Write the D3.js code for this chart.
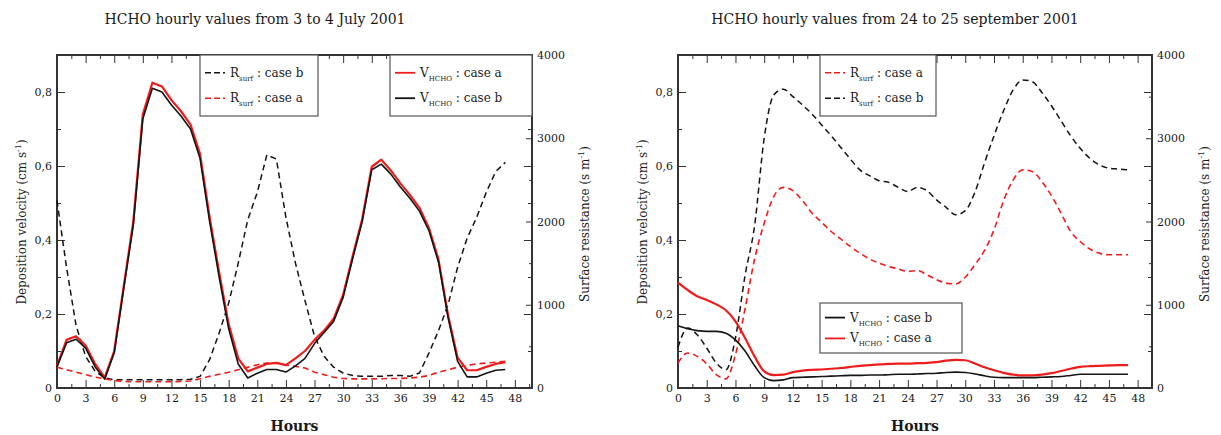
<!DOCTYPE html>
<html>
<head>
<meta charset="utf-8">
<script src="https://cdn.jsdelivr.net/npm/d3@7"></script>
<style>
body { margin: 0; background: #fff; }
text { font-family: "DejaVu Serif", "Liberation Serif", serif; fill: #1a1a1a; }
</style>
</head>
<body>
<svg id="chart"></svg>
<script>
const width = 1221;
const height = 435;

// hours of the two-day runs
const hours = [0,1,2,3,4,5,6,7,8,9,10,11,12,13,14,15,16,17,18,19,20,21,22,23,
               24,25,26,27,28,29,30,31,32,33,34,35,36,37,38,39,40,41,42,43,44,45,46,47];
const xTicks = [0,3,6,9,12,15,18,21,24,27,30,33,36,39,42,45,48];
const vTicks = [0,0.2,0.4,0.6,0.8];
const rTicks = [0,1000,2000,3000,4000];

// 3-4 July 2001
const julyVA = [0.06,0.13,0.14,0.115,0.065,0.028,0.1,0.275,0.45,0.74,0.825,0.815,0.778,0.748,0.712,0.632,0.462,0.312,0.172,0.08,0.045,0.055,0.065,0.068,0.062,0.08,0.1,0.13,0.155,0.187,0.252,0.357,0.457,0.598,0.617,0.588,0.553,0.522,0.487,0.432,0.347,0.197,0.082,0.048,0.048,0.057,0.065,0.07];
const julyVB = [0.057,0.122,0.132,0.108,0.057,0.024,0.095,0.27,0.44,0.728,0.81,0.8,0.765,0.735,0.7,0.62,0.45,0.3,0.16,0.065,0.027,0.04,0.05,0.05,0.043,0.06,0.08,0.12,0.15,0.18,0.245,0.35,0.45,0.59,0.605,0.578,0.543,0.513,0.478,0.425,0.34,0.19,0.072,0.03,0.03,0.04,0.048,0.05];
const julyRA = [250,220,190,160,130,110,90,78,75,75,75,75,75,78,85,110,140,165,190,220,250,280,300,300,275,260,240,190,160,130,115,110,110,110,112,115,115,120,130,150,190,220,250,270,290,300,310,320];
const julyRB = [2250,1450,750,380,200,120,100,100,100,100,100,100,100,100,105,140,340,660,1020,1500,2020,2350,2800,2750,2050,1500,1050,620,380,250,180,150,140,140,140,150,150,140,180,420,690,1000,1450,1800,2050,2350,2600,2710];

// 24-25 September 2001
const sepVA = [0.285,0.265,0.248,0.238,0.226,0.21,0.18,0.135,0.085,0.045,0.035,0.036,0.043,0.047,0.049,0.05,0.052,0.054,0.057,0.06,0.062,0.064,0.065,0.066,0.066,0.067,0.068,0.07,0.074,0.076,0.075,0.066,0.056,0.048,0.041,0.036,0.034,0.034,0.036,0.04,0.046,0.052,0.057,0.059,0.06,0.061,0.062,0.062];
const sepVB = [0.168,0.16,0.155,0.153,0.153,0.148,0.13,0.1,0.06,0.028,0.02,0.022,0.028,0.029,0.03,0.031,0.032,0.033,0.034,0.034,0.035,0.035,0.036,0.037,0.037,0.038,0.039,0.04,0.042,0.043,0.042,0.038,0.033,0.029,0.028,0.028,0.028,0.028,0.029,0.03,0.031,0.034,0.037,0.037,0.037,0.037,0.037,0.037];
const sepRA = [300,420,380,290,160,110,400,950,1550,1980,2300,2410,2370,2250,2100,1990,1880,1790,1700,1620,1550,1500,1460,1430,1400,1410,1360,1300,1260,1250,1330,1480,1650,1900,2250,2500,2620,2600,2480,2310,2100,1880,1760,1670,1620,1600,1600,1600];
const sepRB = [490,720,640,480,300,220,600,1350,1950,3000,3520,3590,3500,3400,3290,3160,3030,2890,2750,2620,2550,2490,2470,2410,2360,2410,2370,2260,2170,2080,2130,2350,2700,3030,3330,3580,3700,3680,3550,3390,3210,3030,2880,2760,2680,2640,2630,2620];

const red = "#f01c1c";
const black = "#141414";

const svg = d3.select("#chart")
    .attr("width", width)
    .attr("height", height);

const panels = [
    {
        title: "HCHO hourly values from 3 to 4 July 2001", titleX: 255,
        left: 57, right: 532, top: 55, bottom: 388, xMax: 49.8, curve: d3.curveLinear,
        va: julyVA, vb: julyVB, ra: julyRA, rb: julyRB,
        legends: [
            {x: 200, y: 55, w: 118, h: 61, rows: [
                {color: black, dash: true, sub: "surf", name: "R", label: " : case b"},
                {color: red, dash: true, sub: "surf", name: "R", label: " : case a"}]},
            {x: 390, y: 55, w: 142, h: 61, rows: [
                {color: red, dash: false, sub: "HCHO", name: "V", label: " : case a"},
                {color: black, dash: false, sub: "HCHO", name: "V", label: " : case b"}]}
        ]
    },
    {
        title: "HCHO hourly values from 24 to 25 september 2001", titleX: 895,
        left: 678, right: 1152, top: 55, bottom: 388, xMax: 49.5, curve: d3.curveMonotoneX,
        va: sepVA, vb: sepVB, ra: sepRA, rb: sepRB,
        legends: [
            {x: 820, y: 55, w: 116, h: 61, rows: [
                {color: red, dash: true, sub: "surf", name: "R", label: " : case a"},
                {color: black, dash: true, sub: "surf", name: "R", label: " : case b"}]},
            {x: 820, y: 303, w: 142, h: 50, rows: [
                {color: black, dash: false, sub: "HCHO", name: "V", label: " : case b"},
                {color: red, dash: false, sub: "HCHO", name: "V", label: " : case a"}]}
        ]
    }
];

const fmtV = d => d === 0 ? "0" : d3.format(".1f")(d).replace(".", ",");

panels.forEach(p => {
    const g = svg.append("g");

    const x = d3.scaleLinear().domain([0, p.xMax]).range([p.left, p.right]);
    const y = d3.scaleLinear().domain([0, 0.9]).range([p.bottom, p.top]);
    const r = d3.scaleLinear().domain([0, 4000]).range([p.bottom, p.top]);

    const minorX = d3.range(1.5, p.xMax, 3);
    const minorY = [0.1, 0.3, 0.5, 0.7];
    const minorR = [500, 1500, 2500, 3500];

    // axes, all ticks pointing inward
    const axisGroup = (axis, transform) => {
        const a = g.append("g").attr("transform", transform).call(axis);
        a.select(".domain").remove();
        a.selectAll("line").attr("stroke", "#333").attr("stroke-width", 1);
        a.selectAll("text").attr("fill", "#1a1a1a").style("font-family", "\"DejaVu Serif\", serif").style("font-size", "11px");
        return a;
    };

    axisGroup(d3.axisBottom(x).tickValues(xTicks).tickSize(-8).tickPadding(6), `translate(0,${p.bottom})`);
    axisGroup(d3.axisBottom(x).tickValues(minorX).tickSize(-4).tickFormat(""), `translate(0,${p.bottom})`);
    axisGroup(d3.axisTop(x).tickValues(xTicks).tickSize(-8).tickFormat(""), `translate(0,${p.top})`);
    axisGroup(d3.axisTop(x).tickValues(minorX).tickSize(-4).tickFormat(""), `translate(0,${p.top})`);

    axisGroup(d3.axisLeft(y).tickValues(vTicks).tickSize(-8).tickPadding(5).tickFormat(fmtV), `translate(${p.left},0)`);
    axisGroup(d3.axisLeft(y).tickValues(minorY).tickSize(-4).tickFormat(""), `translate(${p.left},0)`);
    axisGroup(d3.axisRight(y).tickValues(vTicks).tickSize(-8).tickFormat(""), `translate(${p.right},0)`);
    axisGroup(d3.axisRight(y).tickValues(minorY).tickSize(-4).tickFormat(""), `translate(${p.right},0)`);

    axisGroup(d3.axisRight(r).tickValues(rTicks).tickSize(-6).tickPadding(5).tickFormat(d3.format("d")), `translate(${p.right},0)`);
    axisGroup(d3.axisRight(r).tickValues(minorR).tickSize(-3).tickFormat(""), `translate(${p.right},0)`);

    // frame
    g.append("rect")
        .attr("x", p.left).attr("y", p.top)
        .attr("width", p.right - p.left).attr("height", p.bottom - p.top)
        .attr("fill", "none").attr("stroke", "#333").attr("stroke-width", 2);

    const vLine = d3.line().curve(p.curve).x((d, i) => x(hours[i])).y(d => y(d));
    const rLine = d3.line().curve(p.curve).x((d, i) => x(hours[i])).y(d => r(d));

    const series = [
        {data: p.rb, line: rLine, color: black, dash: "6,4", w: 1.5},
        {data: p.ra, line: rLine, color: red, dash: "6,4", w: 1.6},
        {data: p.va, line: vLine, color: red, dash: null, w: 2.2},
        {data: p.vb, line: vLine, color: black, dash: null, w: 1.6}
    ];
    series.forEach(s => {
        g.append("path")
            .attr("d", s.line(s.data))
            .attr("fill", "none")
            .attr("stroke", s.color)
            .attr("stroke-width", s.w)
            .attr("stroke-dasharray", s.dash)
            .attr("stroke-linejoin", "round");
    });

    // titles and axis labels
    g.append("text")
        .attr("x", p.titleX).attr("y", 24)
        .attr("text-anchor", "middle")
        .style("font-size", "14px")
        .text(p.title);

    g.append("text")
        .attr("x", (p.left + p.right) / 2).attr("y", 431)
        .attr("text-anchor", "middle")
        .style("font-size", "14px")
        .style("font-weight", "bold")
        .text("Hours");

    const yl = g.append("text")
        .attr("transform", `translate(${p.left - 31},222) rotate(-90)`)
        .attr("text-anchor", "middle")
        .style("font-size", "12px");
    yl.append("tspan").text("Deposition velocity (cm s");
    yl.append("tspan").attr("dy", -5).style("font-size", "8px").text("-1");
    yl.append("tspan").attr("dy", 5).text(")");

    const rl = g.append("text")
        .attr("transform", `translate(${p.right + 57},224) rotate(-90)`)
        .attr("text-anchor", "middle")
        .style("font-size", "12px");
    rl.append("tspan").text("Surface resistance (s m");
    rl.append("tspan").attr("dy", -5).style("font-size", "8px").text("-1");
    rl.append("tspan").attr("dy", 5).text(")");

    // legends
    p.legends.forEach(lg => {
        const lgG = g.append("g");
        lgG.append("rect")
            .attr("x", lg.x).attr("y", lg.y)
            .attr("width", lg.w).attr("height", lg.h)
            .attr("fill", "#fff").attr("stroke", "#555").attr("stroke-width", 1.2);
        const step = lg.h / (lg.rows.length + 0.4);
        lg.rows.forEach((row, i) => {
            const cy = lg.y + step * (i + 0.7);
            lgG.append("line")
                .attr("x1", lg.x + 5).attr("x2", lg.x + 25)
                .attr("y1", cy).attr("y2", cy)
                .attr("stroke", row.color)
                .attr("stroke-width", row.dash ? 1.5 : 1.8)
                .attr("stroke-dasharray", row.dash ? "6,3" : null);
            const t = lgG.append("text")
                .attr("x", lg.x + 30).attr("y", cy + 4)
                .style("font-size", "12px");
            t.append("tspan").text(row.name);
            t.append("tspan").attr("dy", 4).style("font-size", "7px").text(row.sub);
            t.append("tspan").attr("dy", -4).text(row.label);
        });
    });
});
</script>
</body>
</html>
